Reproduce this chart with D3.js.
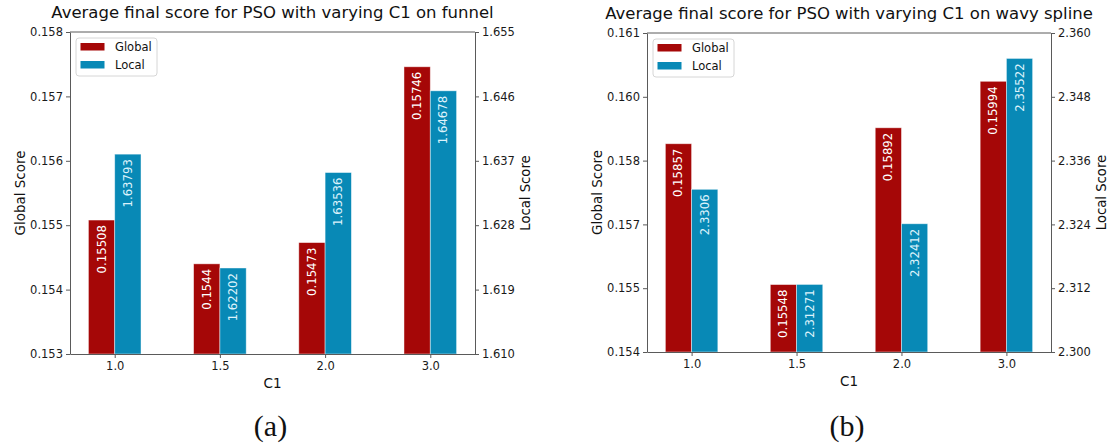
<!DOCTYPE html>
<html>
<head>
<meta charset="utf-8">
<script src="https://cdn.jsdelivr.net/npm/d3@7"></script>
<style>
  html, body { margin: 0; padding: 0; background: #fff; }
  svg { display: block; }
</style>
</head>
<body>
<svg id="fig" width="1110" height="444"></svg>
<script>
// C1 values tested
const categories = ["1.0", "1.5", "2.0", "3.0"];
const seriesNames = ["Global", "Local"];

// funnel results
const funnelGlobal = [0.15508, 0.1544, 0.15473, 0.15746];
const funnelLocal = [1.63793, 1.62202, 1.63536, 1.64678];
const funnelGlobalRange = [0.153, 0.158];
const funnelLocalRange = [1.610, 1.655];

// wavy spline results
const splineGlobal = [0.15857, 0.15548, 0.15892, 0.15994];
const splineLocal = [2.3306, 2.31271, 2.32412, 2.35522];
const splineGlobalRange = [0.154, 0.161];
const splineLocalRange = [2.300, 2.360];

const titles = [
  "Average final score for PSO with varying C1 on funnel",
  "Average final score for PSO with varying C1 on wavy spline"
];
const captions = ["(a)", "(b)"];

const colors = { Global: "#a50707", Local: "#0889b6" };
const labelColors = { Global: "#ffffff", Local: "#dcf2fb" };
const FONT = "DejaVu Sans, sans-serif";

const svg = d3.select("#fig");

const panels = [
  { box: { x0: 70, x1: 475, y0: 32, y1: 354 }, titleY: 17.5,
    g: funnelGlobal, l: funnelLocal, gr: funnelGlobalRange, lr: funnelLocalRange,
    title: titles[0], caption: captions[0] },
  { box: { x0: 647, x1: 1051, y0: 33, y1: 352 }, titleY: 19,
    g: splineGlobal, l: splineLocal, gr: splineGlobalRange, lr: splineLocalRange,
    title: titles[1], caption: captions[1] }
];

// six evenly spaced ticks across an axis range
const evenTicks = r => d3.range(6).map(i => r[0] + i * (r[1] - r[0]) / 5);

function styleAxis(sel) {
  sel.selectAll(".domain").attr("stroke", "#5a5a5a").attr("stroke-width", 1);
  sel.selectAll(".tick line").attr("stroke", "#5a5a5a").attr("stroke-width", 1);
  sel.selectAll(".tick text").attr("fill", "#1a1a1a")
    .style("font-family", FONT).style("font-size", "11.5px");
}

panels.forEach(p => {
  const b = p.box;
  const g = svg.append("g");

  const x = d3.scaleLinear().domain([-0.425, categories.length - 1 + 0.425]).range([b.x0, b.x1]);
  const yG = d3.scaleLinear().domain(p.gr).range([b.y1, b.y0]);
  const yL = d3.scaleLinear().domain(p.lr).range([b.y1, b.y0]);
  const bw = 0.25;

  const rows = categories.map((c, i) => [
    { name: "Global", i, v: p.g[i], y: yG, off: -bw / 2 },
    { name: "Local", i, v: p.l[i], y: yL, off: bw / 2 }
  ]).flat();

  // bars
  g.selectAll("rect.bar").data(rows).join("rect")
    .attr("class", "bar")
    .attr("x", d => x(d.i + d.off - bw / 2))
    .attr("width", d => x(bw) - x(0))
    .attr("y", d => d.y(d.v))
    .attr("height", d => b.y1 - d.y(d.v))
    .attr("fill", d => colors[d.name])
    .attr("stroke", "rgba(255,255,255,0.55)")
    .attr("stroke-width", 0.8);

  // value labels inside bars, reading upward
  g.selectAll("text.val").data(rows).join("text")
    .attr("class", "val")
    .attr("transform", d => `translate(${x(d.i + d.off)},${d.y(d.v) + 5}) rotate(-90)`)
    .attr("text-anchor", "end")
    .attr("dominant-baseline", "central")
    .attr("fill", d => labelColors[d.name])
    .style("font-family", FONT).style("font-size", "11.7px")
    .text(d => String(d.v));

  // frame
  g.append("line").attr("x1", b.x0).attr("x2", b.x1).attr("y1", b.y0).attr("y2", b.y0)
    .attr("stroke", "#5a5a5a");

  const xAxis = g.append("g").attr("transform", `translate(0,${b.y1})`)
    .call(d3.axisBottom(x).tickValues(d3.range(categories.length))
      .tickFormat(i => categories[i]).tickSize(4).tickPadding(4).tickSizeOuter(0));
  styleAxis(xAxis);

  const yAxisL = g.append("g").attr("transform", `translate(${b.x0},0)`)
    .call(d3.axisLeft(yG).tickValues(evenTicks(p.gr)).tickFormat(d3.format(".3f"))
      .tickSize(4).tickPadding(3).tickSizeOuter(0));
  styleAxis(yAxisL);

  const yAxisR = g.append("g").attr("transform", `translate(${b.x1},0)`)
    .call(d3.axisRight(yL).tickValues(evenTicks(p.lr)).tickFormat(d3.format(".3f"))
      .tickSize(4).tickPadding(3).tickSizeOuter(0));
  styleAxis(yAxisR);

  const cx = (b.x0 + b.x1) / 2;
  const cy = (b.y0 + b.y1) / 2;

  // title
  g.append("text").attr("x", cx).attr("y", p.titleY).attr("text-anchor", "middle")
    .attr("fill", "#111").style("font-family", FONT).style("font-size", "16.5px")
    .text(p.title);

  // axis titles
  g.append("text").attr("x", cx).attr("y", b.y1 + 34).attr("text-anchor", "middle")
    .attr("fill", "#111").style("font-family", FONT).style("font-size", "13.5px")
    .text("C1");
  g.append("text").attr("transform", `translate(${b.x0 - 50},${cy}) rotate(-90)`)
    .attr("text-anchor", "middle").attr("dominant-baseline", "central")
    .attr("fill", "#111").style("font-family", FONT).style("font-size", "13.5px")
    .text("Global Score");
  g.append("text").attr("transform", `translate(${b.x1 + 50},${cy}) rotate(-90)`)
    .attr("text-anchor", "middle").attr("dominant-baseline", "central")
    .attr("fill", "#111").style("font-family", FONT).style("font-size", "13.2px")
    .text("Local Score");

  // legend
  const lg = g.append("g").attr("transform", `translate(${b.x0 + 6},${b.y0 + 6})`);
  lg.append("rect").attr("width", 81).attr("height", 38).attr("rx", 3)
    .attr("fill", "#fff").attr("stroke", "#d6d6d6").attr("stroke-width", 1);
  seriesNames.forEach((n, k) => {
    lg.append("rect").attr("x", 4.5).attr("y", 5 + k * 18).attr("width", 24).attr("height", 7.5)
      .attr("fill", colors[n]);
    lg.append("text").attr("x", 39).attr("y", 13 + k * 18)
      .attr("fill", "#111").style("font-family", FONT).style("font-size", "11.5px")
      .text(n);
  });

  // sub-figure caption
  g.append("text").attr("x", cx - 2).attr("y", 436).attr("text-anchor", "middle")
    .attr("fill", "#111").style("font-family", "Liberation Serif, Times New Roman, serif")
    .style("font-size", "30px").text(p.caption);
});
</script>
</body>
</html>
